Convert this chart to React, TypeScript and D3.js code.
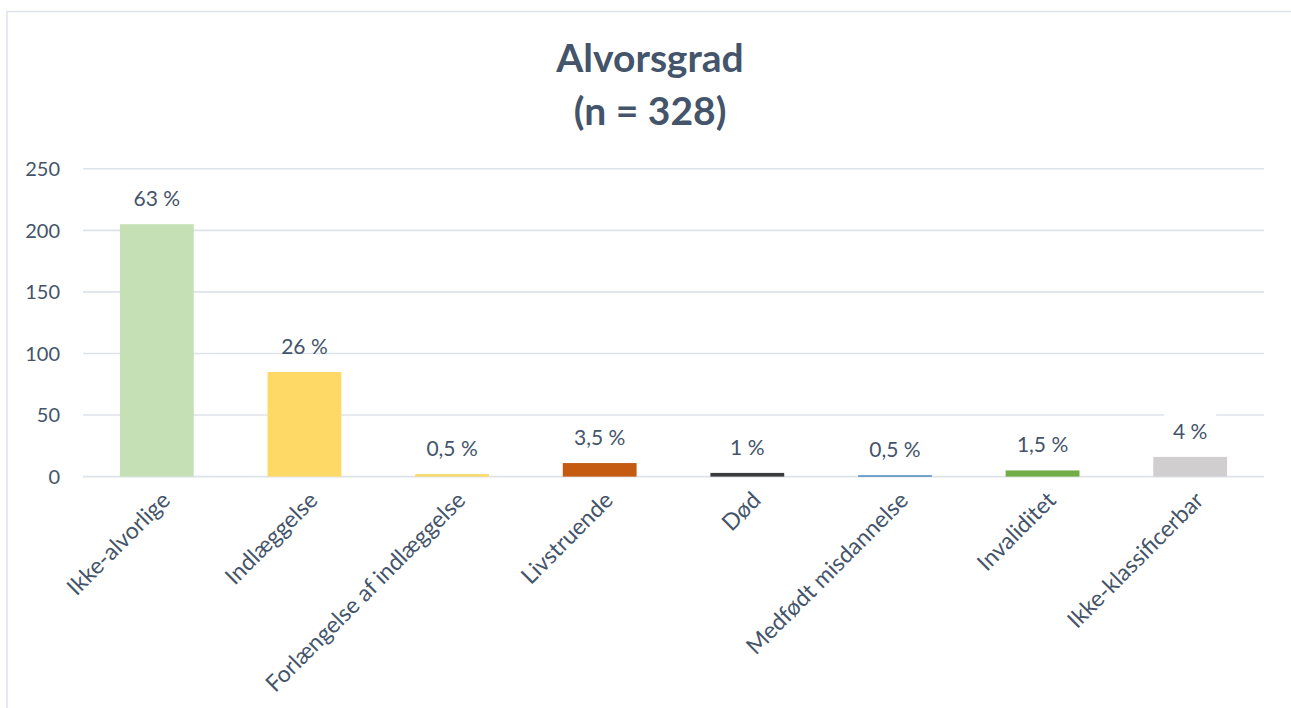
import React from 'react';
import * as d3 from 'd3';

const titleLines = ['Alvorsgrad', '(n = 328)'];
const categories = [
  'Ikke-alvorlige',
  'Indlæggelse',
  'Forlængelse af indlæggelse',
  'Livstruende',
  'Død',
  'Medfødt misdannelse',
  'Invaliditet',
  'Ikke-klassificerbar',
];
const counts = [205, 85, 2, 11, 3, 1, 5, 16];
const percentLabels = ['63 %', '26 %', '0,5 %', '3,5 %', '1 %', '0,5 %', '1,5 %', '4 %'];
const barColors = ['#C5E0B4', '#FFD966', '#FFD966', '#C55A11', '#3B3B3B', '#2E75B6', '#70AD47', '#D0CECE'];
const yTicks = [0, 50, 100, 150, 200, 250];

const W = 1291;
const H = 708;
const FONT = 'Lato, "Open Sans", sans-serif';
const TEXT = '#44546A';
const GRID = '#DEE3EA';

export default function App() {
  const x = d3
    .scaleBand<string>()
    .domain(categories)
    .range([83, 1264])
    .paddingInner(0.5)
    .paddingOuter(0.25);
  const y = d3.scaleLinear().domain([0, 250]).range([476.6, 168.8]);

  return (
    <svg
      width={W}
      height={H}
      viewBox={`0 0 ${W} ${H}`}
      style={{ position: 'absolute', left: 0, top: 0, background: '#fff' }}
      fontFamily={FONT}
    >
      <rect x={0} y={0} width={W} height={H} fill="#fff" />
      <rect x={7} y={11.5} width={W + 20} height={H + 20} fill="#fff" stroke={GRID} strokeWidth={1.5} />

      {titleLines.map((t, i) => (
        <text
          key={t}
          x={650}
          y={72 + i * 53}
          textAnchor="middle"
          fontSize={39}
          fontWeight={700}
          fill={TEXT}
        >
          {t}
        </text>
      ))}

      {yTicks.map((t) => (
        <g key={t}>
          <line x1={83} x2={1264} y1={y(t)} y2={y(t)} stroke={GRID} strokeWidth={1.6} />
          <text x={60} y={y(t)} dy="0.36em" textAnchor="end" fontSize={20} fill={TEXT}>
            {t}
          </text>
        </g>
      ))}

      {categories.map((c, i) => {
        const bx = x(c) as number;
        const bw = x.bandwidth();
        const top = y(counts[i]);
        return (
          <rect key={c} x={bx} y={top} width={bw} height={y(0) - top} fill={barColors[i]} />
        );
      })}

      {categories.map((c, i) => {
        const cx = (x(c) as number) + x.bandwidth() / 2;
        const base = y(counts[i]) - 18;
        const label = percentLabels[i];
        const boxed = i === categories.length - 1;
        return (
          <g key={c + '-lbl'}>
            {boxed && (
              <rect x={cx - 26} y={base - 26} width={52} height={34} fill="#fff" />
            )}
            <text x={cx} y={base} textAnchor="middle" fontSize={21} fill={TEXT}>
              {label}
            </text>
          </g>
        );
      })}

      {categories.map((c) => {
        const cx = (x(c) as number) + x.bandwidth() / 2;
        return (
          <text
            key={c + '-cat'}
            transform={`translate(${cx + 3},${490}) rotate(-45)`}
            textAnchor="end"
            dy="0.72em"
            fontSize={23}
            fill={TEXT}
          >
            {c}
          </text>
        );
      })}
    </svg>
  );
}
